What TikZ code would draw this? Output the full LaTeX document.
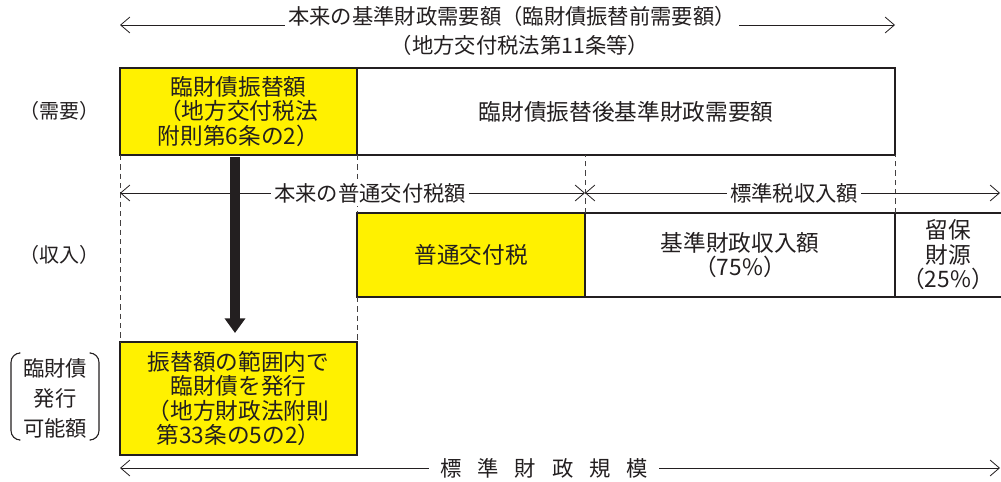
\documentclass[tikz,border=0pt]{standalone}
\usepackage{fontspec}
\setmainfont{Noto Sans CJK JP}
\usetikzlibrary{arrows.meta,calc}
\definecolor{ink}{HTML}{231F20}
\definecolor{yel}{HTML}{FFF100}
\begin{document}
\begin{tikzpicture}[x=0.75pt,y=-0.75pt,
  box/.style={draw=ink,line width=2.2pt,inner sep=0pt,outer sep=0pt},
  ybox/.style={box,fill=yel},
  sz/.style n args={2}{minimum width={#1*0.75pt},minimum height={#2*0.75pt}},
  main/.style={font=\fontsize{17}{18.4}\selectfont,text=ink,align=center},
  lab/.style={font=\fontsize{16}{18}\selectfont,text=ink,fill=white,inner sep=2pt,align=center},
  side/.style={font=\fontsize{15}{22.5}\selectfont,text=ink,align=center},
  barb/.tip={Straight Barb[length=7pt,width=12pt,line width=0.6pt]},
  dim/.style={draw=ink,line width=0.6pt,barb-barb},
  guide/.style={draw=ink!85,line width=0.6pt,dash pattern=on 4pt off 3pt},
]
\useasboundingbox (0,0) rectangle (1001,482);

% row 1 (demand)
\node[ybox,main,sz={237}{87}] (r1a) at (238.5,111.5) {臨財債振替額\\（地方交付税法\\附則第6条の2）};
\node[box,main,sz={538}{87}] (r1b) at (626,111.5) {臨財債振替後基準財政需要額};

% row 2 (revenue)
\node[ybox,main,sz={228}{84}] (r2a) at (471,255) {普通交付税};
\node[box,main,sz={310}{84}] (r2b) at (740,255) {基準財政収入額\\（75\%）};
\node[main,inner sep=0pt,outer sep=0pt,sz={106}{84}] (r2c) at (948,255) {留保\\財源\\（25\%）};
\draw[box] (r2c.north west) -- (r2c.north east);
\draw[box] (r2c.south west) -- (r2c.south east);

% row 3
\node[ybox,main,sz={237}{113}] (r3) at (238.5,398.5) {振替額の範囲内で\\臨財債を発行\\（地方財政法附則\\第33条の5の2）};

% guides
\draw[guide] (r1a.south west) -- (r3.north west);
\draw[guide] (r1a.south east) -- (r2a.north west);
\draw[guide] (r2a.south west) -- (r3.north east);
\draw[guide] (r2a.north east) -- (r2a.north east |- r1b.south);
\draw[guide] (r2b.north east) -- (r1b.south east);

% dimension arrows
\coordinate (tL) at (120,25);
\coordinate (tR) at (895,25);
\draw[dim] (tL) -- (tR);
\node[lab,inner ysep=3pt] (tlab) at (512,16) {本来の基準財政需要額（臨財債振替前需要額）};
\node[font=\fontsize{16}{18}\selectfont,text=ink] (tlab2) at (520,45) {（地方交付税法第11条等）};

\coordinate (m1L) at (120,193);
\coordinate (m1R) at (585,193);
\coordinate (m2L) at (585,193);
\coordinate (m2R) at (1000,193);
\draw[dim] (m1L) -- (m1R);
\draw[dim] (m2L) -- (m2R);
\node[lab] (mlab1) at (370,193) {本来の普通交付税額};
\node[lab] (mlab2) at (794,193) {標準税収入額};

\coordinate (bL) at (120,468);
\coordinate (bR) at (1000,468);
\draw[dim] (bL) -- (bR);
\node[lab,inner xsep=8pt] (blab) at (544,468) {標\hspace{0.75em}準\hspace{0.75em}財\hspace{0.75em}政\hspace{0.75em}規\hspace{0.75em}模};

% big arrow
\coordinate (aS) at (235,157);
\coordinate (aE) at (235,333);
\draw[ink,line width=7.5pt,-{Triangle[width=15pt,length=11pt]}] (aS) -- (aE);

% side labels
\node[side] (need) at (60,111) {（需要）};
\node[side] (inc) at (60,255) {（収入）};
\node[side,font=\fontsize{16}{22.5}\selectfont] (rin) at (55,398) {臨財債\\発行\\可能額};
\draw[ink,line width=0.8pt,rounded corners=7pt] (19,353) -| (11,440) -- (19,440);
\draw[ink,line width=0.8pt,rounded corners=7pt] (91,353) -| (99,440) -- (91,440);
\end{tikzpicture}
\end{document}
